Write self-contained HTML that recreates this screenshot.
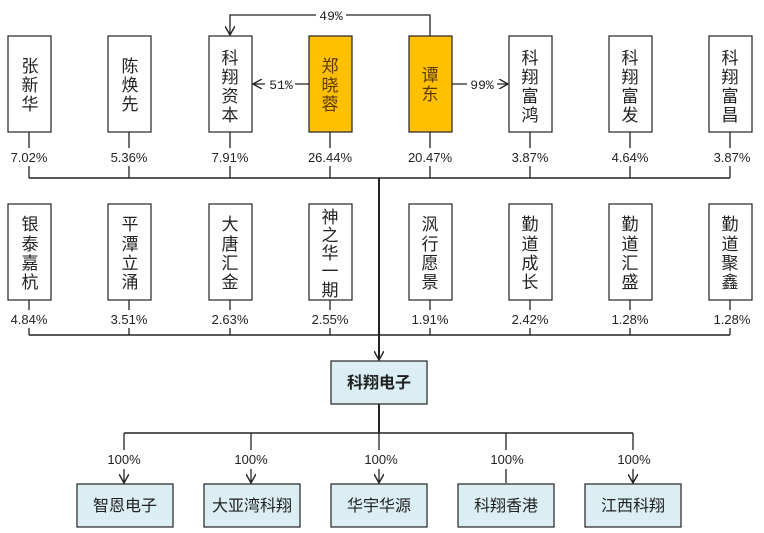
<!DOCTYPE html>
<html><head><meta charset="utf-8"><style>
html,body{margin:0;padding:0;background:#fff;}
svg{display:block;}
text{font-family:"Liberation Sans","Noto Sans CJK SC",sans-serif;fill:#222;}
.c{font-size:17px;}
.p{font-size:13px;font-family:"Liberation Mono","Noto Sans CJK SC",monospace;}
.b{font-size:16px;}
</style></head><body>
<svg width="764" height="533" viewBox="0 0 764 533" xmlns="http://www.w3.org/2000/svg">
<defs>
<marker id="a" viewBox="0 0 10 10" refX="9" refY="5" markerWidth="10" markerHeight="10" orient="auto" markerUnits="userSpaceOnUse">
<path d="M0,0 L9,5 L0,10" fill="none" stroke="#222" stroke-width="1.4"/></marker>
</defs>
<g stroke="#222" stroke-width="1.3" fill="none">
<!-- 49% -->
<polyline points="430,36 430,15 230,15 230,35" marker-end="url(#a)"/>
<line x1="309" y1="84" x2="253" y2="84" marker-end="url(#a)"/>
<line x1="452" y1="84" x2="508" y2="84" marker-end="url(#a)"/>
<!-- row1 connectors -->
<g id="r1">
<line x1="29" y1="132" x2="29" y2="148"/><line x1="29" y1="166" x2="29" y2="178"/>
<line x1="129" y1="132" x2="129" y2="148"/><line x1="129" y1="166" x2="129" y2="178"/>
<line x1="230" y1="132" x2="230" y2="148"/><line x1="230" y1="166" x2="230" y2="178"/>
<line x1="330" y1="132" x2="330" y2="148"/><line x1="330" y1="166" x2="330" y2="178"/>
<line x1="430" y1="132" x2="430" y2="148"/><line x1="430" y1="166" x2="430" y2="178"/>
<line x1="530" y1="132" x2="530" y2="148"/><line x1="530" y1="166" x2="530" y2="178"/>
<line x1="630" y1="132" x2="630" y2="148"/><line x1="630" y1="166" x2="630" y2="178"/>
<line x1="730" y1="132" x2="730" y2="148"/><line x1="730" y1="166" x2="730" y2="178"/>
</g>
<line x1="29" y1="178" x2="730" y2="178" stroke-width="1.6"/>
<g>
<line x1="29" y1="300" x2="29" y2="310"/><line x1="29" y1="328" x2="29" y2="335"/>
<line x1="129" y1="300" x2="129" y2="310"/><line x1="129" y1="328" x2="129" y2="335"/>
<line x1="230" y1="300" x2="230" y2="310"/><line x1="230" y1="328" x2="230" y2="335"/>
<line x1="330" y1="300" x2="330" y2="310"/><line x1="330" y1="328" x2="330" y2="335"/>
<line x1="430" y1="300" x2="430" y2="310"/><line x1="430" y1="328" x2="430" y2="335"/>
<line x1="530" y1="300" x2="530" y2="310"/><line x1="530" y1="328" x2="530" y2="335"/>
<line x1="630" y1="300" x2="630" y2="310"/><line x1="630" y1="328" x2="630" y2="335"/>
<line x1="730" y1="300" x2="730" y2="310"/><line x1="730" y1="328" x2="730" y2="335"/>
</g>
<line x1="29" y1="335" x2="730" y2="335" stroke-width="1.6"/>
<line x1="379" y1="178" x2="379" y2="360" stroke-width="2" marker-end="url(#a)"/>
<line x1="379" y1="404" x2="379" y2="433" stroke-width="2"/>
<line x1="124" y1="433" x2="633" y2="433" stroke-width="1.6"/>
<line x1="124" y1="433" x2="124" y2="450"/><line x1="124" y1="469" x2="124" y2="483" marker-end="url(#a)"/>
<line x1="251" y1="433" x2="251" y2="450"/><line x1="251" y1="469" x2="251" y2="483" marker-end="url(#a)"/>
<line x1="379" y1="433" x2="379" y2="450"/><line x1="379" y1="469" x2="379" y2="483" marker-end="url(#a)"/>
<line x1="506" y1="433" x2="506" y2="450"/><line x1="506" y1="469" x2="506" y2="483"/>
<line x1="633" y1="433" x2="633" y2="450"/><line x1="633" y1="469" x2="633" y2="483" marker-end="url(#a)"/>
</g>
<!-- labels on arrows -->
<rect x="316" y="8" width="30" height="14" fill="#fff"/>
<text x="331" y="20" class="p" text-anchor="middle">49%</text>
<rect x="265" y="77" width="30" height="14" fill="#fff"/>
<text x="281" y="89" class="p" text-anchor="middle">51%</text>
<rect x="467" y="77" width="30" height="14" fill="#fff"/>
<text x="482" y="89" class="p" text-anchor="middle">99%</text>
<!-- row1 boxes -->
<g stroke="#222" stroke-width="1.2">
<rect x="8" y="36" width="43" height="96" fill="#fff"/>
<rect x="108" y="36" width="43" height="96" fill="#fff"/>
<rect x="209" y="36" width="43" height="96" fill="#fff"/>
<rect x="309" y="36" width="43" height="96" fill="#FFC000"/>
<rect x="409" y="36" width="43" height="96" fill="#FFC000"/>
<rect x="509" y="36" width="43" height="96" fill="#fff"/>
<rect x="609" y="36" width="43" height="96" fill="#fff"/>
<rect x="709" y="36" width="43" height="96" fill="#fff"/>
<rect x="8" y="204" width="43" height="96" fill="#fff"/>
<rect x="108" y="204" width="43" height="96" fill="#fff"/>
<rect x="209" y="204" width="43" height="96" fill="#fff"/>
<rect x="309" y="204" width="43" height="96" fill="#fff"/>
<rect x="409" y="204" width="43" height="96" fill="#fff"/>
<rect x="509" y="204" width="43" height="96" fill="#fff"/>
<rect x="609" y="204" width="43" height="96" fill="#fff"/>
<rect x="709" y="204" width="43" height="96" fill="#fff"/>
<rect x="331" y="361" width="96" height="43" fill="#DAEEF3"/>
<rect x="77" y="484" width="96" height="43" fill="#DAEEF3"/>
<rect x="204" y="484" width="96" height="43" fill="#DAEEF3"/>
<rect x="331" y="484" width="96" height="43" fill="#DAEEF3"/>
<rect x="458" y="484" width="96" height="43" fill="#DAEEF3"/>
<rect x="585" y="484" width="96" height="43" fill="#DAEEF3"/>
</g>
<g class="c" text-anchor="middle">
<text x="30" y="72">张</text><text x="30" y="91">新</text><text x="30" y="110">华</text>
<text x="130" y="72">陈</text><text x="130" y="91">焕</text><text x="130" y="110">先</text>
<text x="230" y="64">科</text><text x="230" y="83">翔</text><text x="230" y="102">资</text><text x="230" y="121">本</text>
<text x="330" y="72" style="fill:#5a3a00">郑</text><text x="330" y="91" style="fill:#5a3a00">晓</text><text x="330" y="110" style="fill:#5a3a00">蓉</text>
<text x="430" y="81" style="fill:#5a3a00">谭</text><text x="430" y="100" style="fill:#5a3a00">东</text>
<text x="530" y="64">科</text><text x="530" y="83">翔</text><text x="530" y="102">富</text><text x="530" y="121">鸿</text>
<text x="630" y="64">科</text><text x="630" y="83">翔</text><text x="630" y="102">富</text><text x="630" y="121">发</text>
<text x="730" y="64">科</text><text x="730" y="83">翔</text><text x="730" y="102">富</text><text x="730" y="121">昌</text>
<text x="30" y="230">银</text><text x="30" y="250">泰</text><text x="30" y="269">嘉</text><text x="30" y="288">杭</text>
<text x="130" y="230">平</text><text x="130" y="250">潭</text><text x="130" y="269">立</text><text x="130" y="288">涌</text>
<text x="230" y="230">大</text><text x="230" y="250">唐</text><text x="230" y="269">汇</text><text x="230" y="288">金</text>
<text x="330" y="223">神</text><text x="330" y="241">之</text><text x="330" y="259">华</text><text x="330" y="277">一</text><text x="330" y="296">期</text>
<text x="430" y="230">沨</text><text x="430" y="250">行</text><text x="430" y="269">愿</text><text x="430" y="288">景</text>
<text x="530" y="230">勤</text><text x="530" y="250">道</text><text x="530" y="269">成</text><text x="530" y="288">长</text>
<text x="630" y="230">勤</text><text x="630" y="250">道</text><text x="630" y="269">汇</text><text x="630" y="288">盛</text>
<text x="730" y="230">勤</text><text x="730" y="250">道</text><text x="730" y="269">聚</text><text x="730" y="288">鑫</text>
</g>
<g class="p" text-anchor="middle">
<text x="29" y="162">7.02%</text><text x="129" y="162">5.36%</text><text x="230" y="162">7.91%</text><text x="330" y="162">26.44%</text>
<text x="430" y="162">20.47%</text><text x="530" y="162">3.87%</text><text x="630" y="162">4.64%</text><text x="732" y="162">3.87%</text>
<text x="29" y="324">4.84%</text><text x="129" y="324">3.51%</text><text x="230" y="324">2.63%</text><text x="330" y="324">2.55%</text>
<text x="430" y="324">1.91%</text><text x="530" y="324">2.42%</text><text x="630" y="324">1.28%</text><text x="732" y="324">1.28%</text>
<text x="124" y="464">100%</text><text x="251" y="464">100%</text><text x="381" y="464">100%</text><text x="507" y="464">100%</text><text x="634" y="464">100%</text>
</g>
<g class="b" text-anchor="middle">
<text x="379" y="388" style="font-weight:bold">科翔电子</text>
<text x="125" y="511">智恩电子</text>
<text x="252" y="511">大亚湾科翔</text>
<text x="379" y="511">华宇华源</text>
<text x="506" y="511">科翔香港</text>
<text x="633" y="511">江西科翔</text>
</g>
</svg>
</body></html>
